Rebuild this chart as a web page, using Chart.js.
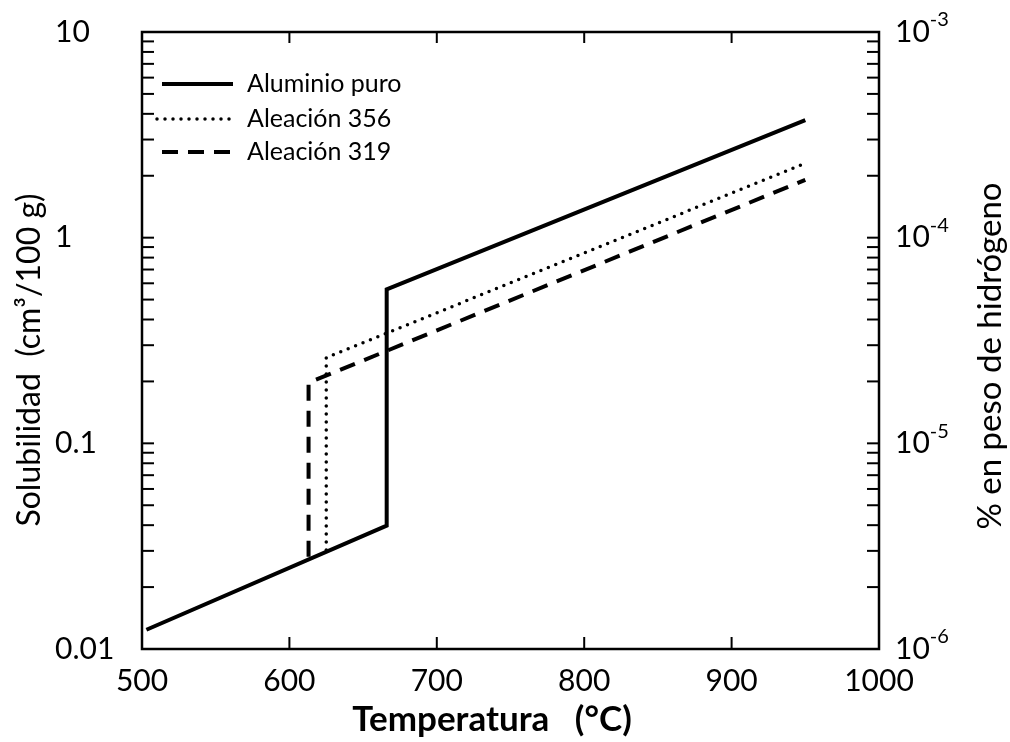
<!DOCTYPE html>
<html>
<head>
<meta charset="utf-8">
<script src="https://cdn.jsdelivr.net/npm/chart.js@4.4.1/dist/chart.umd.min.js"></script>
<style>
  html, body { margin: 0; padding: 0; background: #fff; }
  #wrap { width: 1010px; height: 742px; }
</style>
</head>
<body>
<div id="wrap"><canvas id="chart" width="1010" height="742"></canvas></div>
<script>
// hydrogen solubility vs temperature
const seriesNames = ["Aluminio puro", "Aleación 356", "Aleación 319"];

const tempPuro = [503, 666, 666, 950];
const solPuro = [0.0124, 0.0398, 0.56, 3.73];

const temp356 = [625, 625, 948];
const sol356 = [0.0303, 0.261, 2.27];

const temp319 = [613, 613, 950];
const sol319 = [0.0281, 0.197, 1.91];

const xTicks = [500, 600, 700, 800, 900, 1000];
const yTicks = [0.01, 0.1, 1, 10];
const yTickLabels = ["0.01", "0.1", "1", "10"];
const y2Ticks = [1e-6, 1e-5, 1e-4, 1e-3];
const y2Exponents = ["-6", "-5", "-4", "-3"];

const FONT = "Lato, 'Open Sans', sans-serif";

function toPoints(xs, ys) {
  return xs.map((x, i) => ({ x: x, y: ys[i] }));
}

function line(ctx, x1, y1, x2, y2) {
  ctx.beginPath();
  ctx.moveTo(x1, y1);
  ctx.lineTo(x2, y2);
  ctx.stroke();
}

// box, inward ticks, right labels, titles, legend
const extras = {
  id: "extras",
  afterDraw(chart) {
    const { ctx, chartArea: a, scales } = chart;
    ctx.save();
    ctx.strokeStyle = "#000";
    ctx.fillStyle = "#000";

    ctx.lineWidth = 2.5;
    ctx.strokeRect(a.left, a.top, a.right - a.left, a.bottom - a.top);

    ctx.lineWidth = 2;
    xTicks.slice(1, -1).forEach(v => {
      const px = scales.x.getPixelForValue(v);
      line(ctx, px, a.bottom, px, a.bottom - 12);
      line(ctx, px, a.top, px, a.top + 11);
    });

    // log ticks (decades + minor) on both sides
    yTicks.slice(0, -1).forEach(d => {
      for (let m = 1; m <= 9; m++) {
        const py = scales.y.getPixelForValue(d * m);
        if (py < a.bottom - 1 && py > a.top + 1) line(ctx, a.left, py, a.left + 12, py);
      }
    });
    y2Ticks.slice(0, -1).forEach(d => {
      for (let m = 1; m <= 9; m++) {
        const py = scales.y2.getPixelForValue(d * m);
        if (py < a.bottom - 1 && py > a.top + 1) line(ctx, a.right, py, a.right - 12, py);
      }
    });

    // right axis labels 10^n
    ctx.textBaseline = "middle";
    ctx.textAlign = "left";
    y2Ticks.forEach((v, i) => {
      const py = scales.y2.getPixelForValue(v);
      ctx.font = "30px " + FONT;
      ctx.fillText("10", a.right + 16, py);
      const w = ctx.measureText("10").width;
      ctx.font = "20px " + FONT;
      ctx.fillText(y2Exponents[i], a.right + 16 + w, py - 12);
    });

    // axis titles
    ctx.textAlign = "center";
    ctx.font = "bold 35px " + FONT;
    ctx.fillText("Temperatura   (°C)", 492, 720);

    ctx.font = "32px " + FONT;
    ctx.save();
    ctx.translate(30, 360);
    ctx.rotate(-Math.PI / 2);
    ctx.fillText("Solubilidad  (cm³/100 g)", 0, 0);
    ctx.restore();

    ctx.font = "33px " + FONT;
    ctx.save();
    ctx.translate(990, 356);
    ctx.rotate(-Math.PI / 2);
    ctx.fillText("% en peso de hidrógeno", 0, 0);
    ctx.restore();

    // legend
    const rows = [84, 119, 152];
    const starts = [162, 157, 162];
    chart.data.datasets.forEach((ds, i) => {
      ctx.save();
      ctx.lineWidth = ds.borderWidth;
      ctx.lineCap = ds.borderCapStyle || "butt";
      ctx.setLineDash(ds.borderDash || []);
      line(ctx, starts[i], rows[i], 233, rows[i]);
      ctx.restore();
      ctx.font = "25px " + FONT;
      ctx.textAlign = "left";
      ctx.fillText(ds.label, 247, rows[i]);
    });

    ctx.restore();
  }
};

new Chart(document.getElementById("chart"), {
  type: "scatter",
  data: {
    datasets: [
      {
        label: seriesNames[0],
        data: toPoints(tempPuro, solPuro),
        borderColor: "#000",
        borderWidth: 4,
        borderDash: [],
        borderCapStyle: "butt"
      },
      {
        label: seriesNames[1],
        data: toPoints(temp356, sol356),
        borderColor: "#000",
        borderWidth: 3.5,
        borderDash: [0, 8],
        borderCapStyle: "round"
      },
      {
        label: seriesNames[2],
        data: toPoints(temp319, sol319),
        borderColor: "#000",
        borderWidth: 4,
        borderDash: [16, 10],
        borderCapStyle: "butt"
      }
    ]
  },
  options: {
    responsive: false,
    animation: false,
    devicePixelRatio: 1,
    showLine: true,
    elements: {
      point: { radius: 0, hoverRadius: 0 },
      line: { tension: 0, borderJoinStyle: "miter", fill: false }
    },
    layout: { padding: { top: 32, left: 55, right: 0, bottom: 0 } },
    plugins: {
      legend: { display: false },
      tooltip: { enabled: false }
    },
    scales: {
      x: {
        type: "linear",
        min: 500,
        max: 1000,
        afterBuildTicks: (s) => { s.ticks = xTicks.map(v => ({ value: v })); },
        afterFit: (s) => { s.height = 93; },
        grid: { display: false, drawTicks: false },
        border: { display: false },
        ticks: {
          autoSkip: false,
          maxRotation: 0,
          padding: 14,
          color: "#000",
          font: { family: FONT, size: 30 },
          callback: (v) => String(v)
        }
      },
      y: {
        type: "logarithmic",
        position: "left",
        min: 0.01,
        max: 10,
        afterBuildTicks: (s) => { s.ticks = yTicks.map(v => ({ value: v })); },
        afterFit: (s) => { s.width = 87; },
        grid: { display: false, drawTicks: false },
        border: { display: false },
        ticks: {
          autoSkip: false,
          crossAlign: "far",
          color: "#000",
          font: { family: FONT, size: 30 },
          callback: (v, i) => yTickLabels[i]
        }
      },
      y2: {
        type: "logarithmic",
        position: "right",
        min: 1e-6,
        max: 1e-3,
        afterBuildTicks: (s) => { s.ticks = y2Ticks.map(v => ({ value: v })); },
        afterFit: (s) => { s.width = 131; },
        grid: { display: false, drawTicks: false },
        border: { display: false },
        ticks: { display: false }
      }
    }
  },
  plugins: [extras]
});
</script>
</body>
</html>
